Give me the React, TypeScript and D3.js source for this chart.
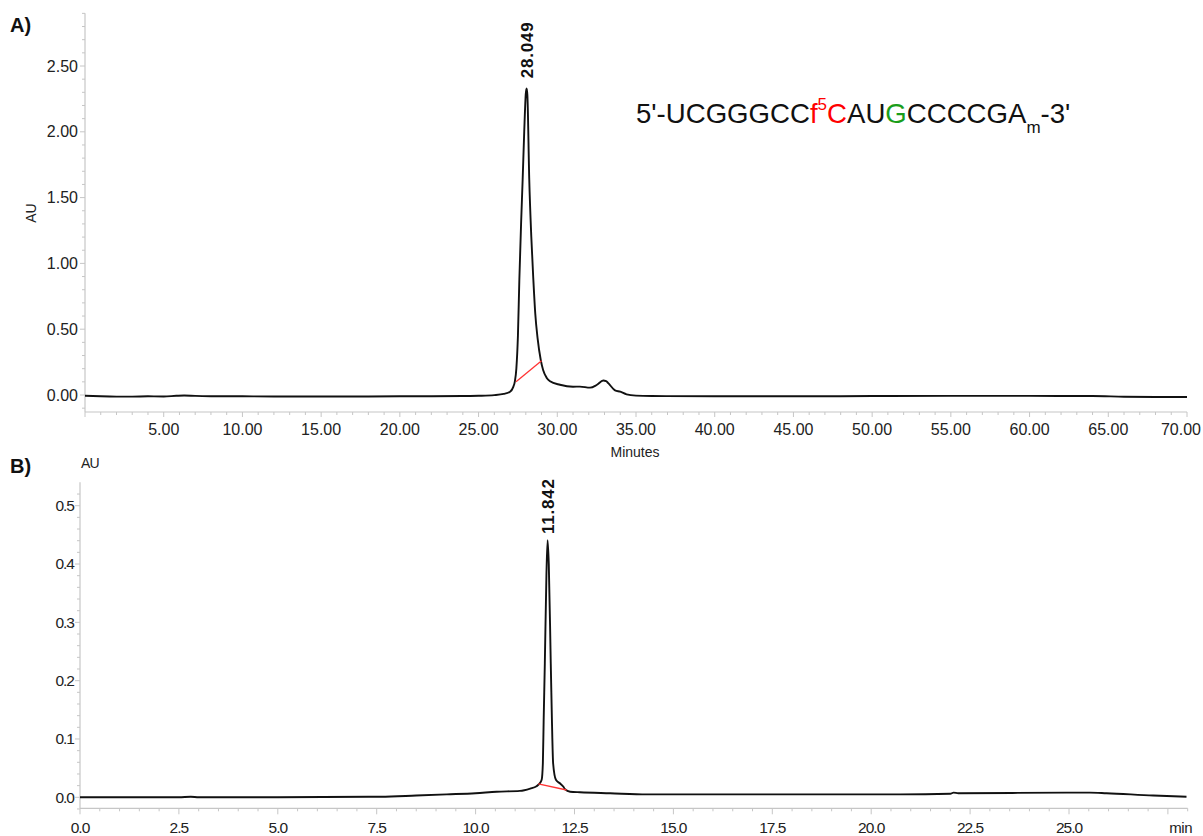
import React from "react";
import * as d3 from "d3";

// ---------- Panel A data (time in minutes, absorbance AU) ----------
const traceA: [number, number][] = [
  [0, -0.006], [1, -0.01], [2, -0.012], [3, -0.012], [4, -0.01], [5, -0.011],
  [5.8, -0.006], [6.3, -0.004], [7, -0.007], [8, -0.009], [10, -0.01], [12, -0.011],
  [15, -0.011], [18, -0.011], [20, -0.01], [22, -0.01], [24, -0.008], [25, -0.006],
  [26, -0.001], [26.6, 0.008], [27.0, 0.025], [27.2, 0.06], [27.3, 0.1], [27.4, 0.2],
  [27.5, 0.45], [27.59, 0.875], [27.7, 1.3], [27.8, 1.635], [27.9, 2.0], [28.0, 2.29],
  [28.05, 2.33], [28.1, 2.28], [28.22, 1.635], [28.35, 1.2], [28.48, 0.875], [28.6, 0.62],
  [28.75, 0.43], [28.95, 0.266], [29.1, 0.19], [29.33, 0.13], [29.54, 0.105], [30.17, 0.078],
  [31.0, 0.063], [31.44, 0.064], [32.08, 0.056], [32.5, 0.076], [32.92, 0.11], [33.1, 0.105],
  [33.24, 0.09], [33.67, 0.035], [34.0, 0.025], [34.4, 0.005], [35, -0.005], [36, -0.008],
  [40, -0.01], [45, -0.01], [50, -0.008], [55, -0.007], [60, -0.007], [64, -0.008],
  [66, -0.013], [68, -0.015], [70, -0.015],
];
const baselineA: [number, number][] = [[27.38, 0.1], [29.0, 0.26]];
const peakA = { time: 28.049, height: 2.33, label: "28.049" };
const yTicksA = [0, 0.5, 1.0, 1.5, 2.0, 2.5];
const xTicksA = [5, 10, 15, 20, 25, 30, 35, 40, 45, 50, 55, 60, 65, 70];

// ---------- Panel B data ----------
const traceB: [number, number][] = [
  [0, 0], [2.5, 0], [2.8, 0.001], [3, 0], [5, 0], [7.3, 0.001], [7.6, 0.001],
  [8.5, 0.003], [9.27, 0.005], [10, 0.007], [10.53, 0.0096], [11.12, 0.011],
  [11.38, 0.015], [11.54, 0.019], [11.61, 0.023], [11.67, 0.03], [11.7, 0.058],
  [11.72, 0.13], [11.75, 0.23], [11.79, 0.38], [11.82, 0.441], [11.85, 0.4],
  [11.9, 0.23], [11.93, 0.13], [11.96, 0.058], [12.03, 0.03], [12.13, 0.024],
  [12.22, 0.018], [12.26, 0.0137], [12.39, 0.0096], [12.64, 0.0086], [13.4, 0.0069],
  [14.33, 0.005], [15.17, 0.005], [17.5, 0.005], [20.73, 0.005], [22.0, 0.006],
  [22.08, 0.008], [22.2, 0.007], [24.94, 0.008], [25.53, 0.008], [25.95, 0.007],
  [27.13, 0.003], [27.97, 0.001],
];
const baselineB: [number, number][] = [[11.585, 0.023], [12.3, 0.0125]];
const peakB = { time: 11.842, height: 0.441, label: "11.842" };
const yTicksB = [0, 0.1, 0.2, 0.3, 0.4, 0.5];
const xTicksB = [0, 2.5, 5, 7.5, 10, 12.5, 15, 17.5, 20, 22.5, 25];

const FONT = "'Liberation Sans', Arial, sans-serif";
const AXIS = "#c6c6c6";
const TXT = "#222";

export default function App() {
  // Panel A scales
  const xA = d3.scaleLinear().domain([0, 70]).range([85, 1187]);
  const yA = d3.scaleLinear().domain([0, 2.5]).range([395, 66]);
  const axisYA = 412;
  const lineA = d3
    .line<[number, number]>()
    .x((d) => xA(d[0]))
    .y((d) => yA(d[1]))
    .curve(d3.curveMonotoneX);
  const minorYA = d3.range(-1, 30).map((i) => i / 10);
  const minorXA = d3.range(0, 71);

  // Panel B scales
  const xB = d3.scaleLinear().domain([0, 25]).range([80, 1069]);
  const yB = d3.scaleLinear().domain([0, 0.5]).range([797.3, 505.7]);
  const axisYB = 808.3;
  const lineB = d3
    .line<[number, number]>()
    .x((d) => xB(d[0]))
    .y((d) => yB(d[1]))
    .curve(d3.curveMonotoneX);
  const minorYB = d3.range(-1, 27).map((i) => i * 0.02);
  const minorXB = d3.range(0, 57).map((i) => i * 0.5);

  return (
    <svg
      width={1203}
      height={836}
      style={{ position: "absolute", left: 0, top: 0, background: "#fff" }}
      fontFamily={FONT}
    >
      <rect width={1203} height={836} fill="#fff" />

      {/* ================= Panel A ================= */}
      <text x={10} y={32} fontSize={20} fontWeight="bold" fill="#111">A)</text>
      <line x1={xA(0)} x2={xA(0)} y1={yA(2.9)} y2={axisYA} stroke={AXIS} strokeWidth={1.2} />
      <line x1={xA(0)} x2={xA(70)} y1={axisYA} y2={axisYA} stroke={AXIS} strokeWidth={1.2} />
      {minorYA.map((v, i) => {
        const major = Math.abs(v * 2 - Math.round(v * 2)) < 1e-6;
        return (
          <line key={"mya" + i} x1={xA(0) - (major ? 5 : 3)} x2={xA(0)} y1={yA(v)} y2={yA(v)} stroke={AXIS} strokeWidth={1} />
        );
      })}
      {minorXA.map((v) => {
        const major = v % 5 === 0;
        return (
          <line key={"mxa" + v} x1={xA(v)} x2={xA(v)} y1={axisYA} y2={axisYA + (major ? 5 : 3)} stroke={AXIS} strokeWidth={1} />
        );
      })}
      {yTicksA.map((v) => (
        <text key={"yta" + v} x={xA(0) - 7} y={yA(v)} dy="0.35em" textAnchor="end" fontSize={16} fill={TXT}>
          {v.toFixed(2)}
        </text>
      ))}
      {xTicksA.map((v) => (
        <text
          key={"xta" + v}
          x={v === 70 ? 1201 : xA(v)}
          y={435}
          textAnchor={v === 70 ? "end" : "middle"}
          fontSize={16}
          fill={TXT}
        >
          {v.toFixed(2)}
        </text>
      ))}
      <text x={635} y={457} textAnchor="middle" fontSize={14} fill={TXT}>Minutes</text>
      <text transform="translate(36,213) rotate(-90)" textAnchor="middle" fontSize={14} fill={TXT}>AU</text>

      <path d={lineA(traceA) || ""} fill="none" stroke="#111" strokeWidth={1.9} strokeLinejoin="round" />
      <path d={lineA(baselineA) || ""} fill="none" stroke="#ff3333" strokeWidth={1.3} />
      <text
        transform={`translate(${xA(peakA.time) + 6.5},${yA(peakA.height) - 10}) rotate(-90)`}
        textAnchor="start"
        fontSize={17}
        fontWeight="bold"
        letterSpacing={0.8}
        fill="#111"
      >
        {peakA.label}
      </text>

      <text x={636} y={123} fontSize={27.6} fill="#111">
        <tspan>5'-UCGGGCC</tspan>
        <tspan fill="#ff0000">f</tspan>
        <tspan fill="#ff0000" fontSize={17} dy={-13}>5</tspan>
        <tspan fill="#ff0000" dy={13}>C</tspan>
        <tspan>AU</tspan>
        <tspan fill="#1a9e1a">G</tspan>
        <tspan>CCCCGA</tspan>
        <tspan fontSize={17} dy={10}>m</tspan>
        <tspan dy={-10}>-3'</tspan>
      </text>

      {/* ================= Panel B ================= */}
      <text x={10} y={473} fontSize={20} fontWeight="bold" fill="#111">B)</text>
      <text x={81} y={468} fontSize={14} fill={TXT} letterSpacing={-0.8}>AU</text>
      <line x1={xB(0)} x2={xB(0)} y1={yB(0.54)} y2={axisYB} stroke={AXIS} strokeWidth={1.2} />
      <line x1={xB(0)} x2={xB(28)} y1={axisYB} y2={axisYB} stroke={AXIS} strokeWidth={1.2} />
      {minorYB.map((v, i) => {
        const major = Math.abs(v * 10 - Math.round(v * 10)) < 1e-6;
        return (
          <line key={"myb" + i} x1={xB(0) - (major ? 5 : 3)} x2={xB(0)} y1={yB(v)} y2={yB(v)} stroke={AXIS} strokeWidth={1} />
        );
      })}
      {minorXB.map((v, i) => {
        const major = Math.abs(v / 2.5 - Math.round(v / 2.5)) < 1e-6;
        return (
          <line key={"mxb" + i} x1={xB(v)} x2={xB(v)} y1={axisYB} y2={axisYB + (major ? 6 : 3)} stroke={AXIS} strokeWidth={1} />
        );
      })}
      {yTicksB.map((v) => (
        <text key={"ytb" + v} x={xB(0) - 6} y={yB(v)} dy="0.35em" textAnchor="end" fontSize={15.5} letterSpacing={-1} fill={TXT}>
          {v.toFixed(1)}
        </text>
      ))}
      {xTicksB.map((v) => (
        <text key={"xtb" + v} x={xB(v)} y={833} textAnchor="middle" fontSize={15.5} letterSpacing={-1} fill={TXT}>
          {v.toFixed(1)}
        </text>
      ))}
      <text x={1192} y={833} textAnchor="end" fontSize={15} letterSpacing={-0.5} fill={TXT}>min</text>

      <path d={lineB(traceB) || ""} fill="none" stroke="#111" strokeWidth={1.9} strokeLinejoin="round" />
      <path d={lineB(baselineB) || ""} fill="none" stroke="#ff3333" strokeWidth={1.3} />
      <text
        transform={`translate(${xB(peakB.time) + 6},${yB(peakB.height) - 6}) rotate(-90)`}
        textAnchor="start"
        fontSize={17}
        fontWeight="bold"
        letterSpacing={0.8}
        fill="#111"
      >
        {peakB.label}
      </text>
    </svg>
  );
}
